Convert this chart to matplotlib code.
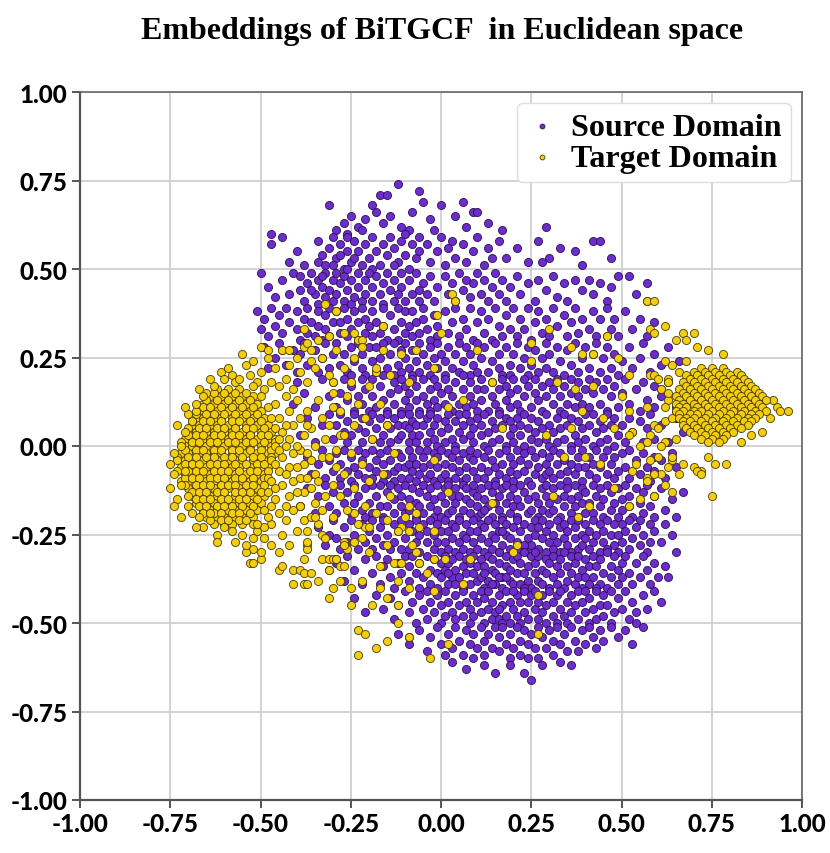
import numpy as np
import matplotlib
matplotlib.use("Agg")
import matplotlib.pyplot as plt

# ---------------- data (hundredths, flat x,y pairs) ----------------
TICKS = [-1.0, -0.75, -0.5, -0.25, 0.0, 0.25, 0.5, 0.75, 1.0]
TICK_LABELS = ["-1.00", "-0.75", "-0.50", "-0.25", "0.00", "0.25", "0.50", "0.75", "1.00"]
SERIES = ["Source Domain", "Target Domain"]

SRC_TOP = [-31,68, -27,63, -25,65, -29,61, -23,62, -26,60, -21,64, -22,61,
           -17,71, -15,71, -12,74, -18,66, -14,65, -11,62, -16,63, -19,68,
           -6,72, -5,69, -8,66, -3,64, -9,61, -2,61, 0,68, 6,69, 4,65, 9,66,
           10,66, 7,62, 13,63, 17,61, 29,62]
SRC_B55 = [-47,57, -47,60, -44,59, -40,55, -38,51, -42,52,
           -34,58, -33,54, -32,51, -31,56, -30,59, -29,53, -28,57, -27,50, -26,55, -26,59, -34,52, -30,51, -28,54, -25,52,
           -24,58, -23,55, -22,51, -21,57, -20,53, -19,59, -18,55, -17,51, -16,57, -24,53, -19,50, -15,54,
           -14,59, -13,56, -12,52, -11,58, -10,54, -9,50, -8,57, -7,53, -6,59, -13,51, -10,60, -6,55,
           -4,57, -3,52, -1,55, 0,59, 1,51, 2,56, 4,53, 3,58,
           6,57, 7,52, 9,55, 10,59, 12,51, 13,56, 14,53,
           16,58, 18,53, 21,56, 24,52, 27,58, 28,52, 30,53, 33,56,
           37,55, 39,51, 42,58, 44,58, 47,53]
SRC_B45 = [-50,49, -48,45, -46,42, -44,47, -42,43, -41,49,
           -39,48, -39,44, -38,41, -37,46, -36,49, -35,43, -34,40, -34,47, -33,45, -32,42, -32,49, -31,44, -30,47, -30,41, -36,44, -33,48,
           -29,49, -29,43, -28,46, -27,41, -27,48, -26,44, -25,47, -25,40, -24,42, -23,49, -23,45, -22,41, -21,47, -21,43, -20,49, -26,50,
           -19,45, -19,41, -18,48, -17,43, -16,46, -16,40, -15,49, -14,44, -13,41, -13,47, -12,43, -11,49, -11,45, -10,41,
           -9,47, -8,43, -7,49, -6,41, -5,46, -4,43, -3,48, -2,41, -1,45, -6,44,
           1,48, 2,43, 3,46, 4,41, 5,49, 6,44, 7,47, 8,42, 9,46, 10,49,
           11,43, 12,47, 13,41, 14,45, 15,49, 16,43, 17,47, 18,41, 19,45,
           21,48, 22,43, 24,46, 26,41, 27,47, 29,44,
           31,48, 32,42, 34,46, 35,41, 37,47, 39,44,
           41,47, 42,43, 44,46, 46,41, 47,45, 49,48, 52,48, 54,43, 57,46]
SRC_B35 = [-51,38, -50,33, -49,36, -48,31, -47,39, -46,34, -45,37, -44,32, -43,39, -42,35,
           -40,38, -40,33, -39,30, -38,36, -37,39, -37,32, -36,35, -35,31, -34,38, -34,34, -33,30, -32,37, -32,33, -31,39, -31,31, -30,35,
           -29,38, -28,32, -28,35, -27,39, -26,31, -26,36, -25,33, -24,38, -23,30, -23,35, -22,39, -21,32, -21,36, -20,34,
           -19,31, -19,38, -18,35, -17,32, -16,39, -16,34, -15,30, -14,37, -13,33, -12,39, -12,30, -11,35, -10,32, -10,38,
           -9,34, -8,31, -8,38, -7,35, -6,32, -5,39, -5,36, -4,33, -3,30, -2,37, -1,34, -1,31,
           1,38, 2,32, 3,35, 4,39, 5,31, 6,36, 7,33, 8,39, 9,30, 10,35,
           11,38, 12,32, 13,36, 14,30, 15,39, 16,34, 17,31, 18,37, 19,33, 20,39,
           21,31, 22,36, 23,33, 24,39, 25,30, 26,35, 27,38, 28,32, 29,36, 30,31,
           31,39, 32,34, 34,37, 35,31, 36,35, 37,39, 38,32, 39,36,
           41,33, 42,38, 43,31, 44,36, 46,39, 47,33, 48,36, 49,31,
           51,38, 53,33, 55,36, 57,31, 59,35]
SRC_B25 = [-49,28, -48,22, -46,25, -45,29, -43,23, -41,27,
           -40,21, -39,26, -38,29, -37,23, -35,27, -34,21, -33,25, -32,29, -31,22, -30,26,
           -29,29, -28,23, -27,26, -26,21, -25,28, -24,24, -23,29, -22,22, -22,26, -21,20, -20,28, -25,20,
           -19,24, -18,21, -18,28, -17,25, -16,29, -15,22, -14,26, -13,20, -13,29, -12,23, -11,27, -11,21, -10,25, -10,29,
           -9,22, -8,27, -8,20, -7,24, -6,29, -6,21, -5,26, -4,23, -3,28, -3,20, -2,25, -1,29, -1,22, 0,26,
           1,20, 1,24, 2,28, 3,22, 4,26, 5,29, 5,21, 6,24, 7,28, 8,20, 8,26, 9,23, 10,29, 10,21,
           11,25, 12,28, 13,21, 14,24, 15,29, 16,22, 16,26, 17,20, 18,28, 19,23, 20,26, 19,20,
           21,29, 22,22, 23,25, 24,20, 24,28, 25,23, 26,27, 27,21, 28,25, 29,29, 29,22, 30,26,
           31,21, 32,28, 33,24, 34,20, 35,27, 36,23, 37,29, 38,21, 39,25, 40,28,
           41,22, 42,26, 43,29, 44,21, 45,25, 46,28, 47,22, 48,26, 49,20, 50,24,
           52,28, 53,22, 55,25, 56,29, 58,21, 59,26, 61,23, 63,28, 66,24]
SRC_B15 = [-41,12, -40,18, -38,15, -35,11, -33,19, -31,14,
           -30,18, -29,11, -28,15, -27,19, -26,13, -25,17, -24,10, -23,14, -22,19, -22,12, -21,16, -20,10,
           -19,14, -19,19, -18,11, -17,17, -16,13, -16,20, -15,10, -14,15, -13,18, -13,12, -12,16, -11,10, -11,19, -10,13, -10,17,
           -9,11, -9,15, -8,19, -7,13, -7,17, -6,10, -5,14, -5,19, -4,12, -3,16, -3,10, -2,19, -2,13, -1,17, -1,11, 0,15,
           1,19, 1,12, 2,16, 3,10, 3,14, 4,18, 5,12, 6,16, 6,20, 7,11, 8,14, 8,18, 9,12, 10,16, 10,10,
           11,19, 11,13, 12,16, 13,10, 14,14, 14,18, 15,12, 16,16, 16,10, 17,19, 18,13, 18,17, 19,11, 19,15, 20,19,
           21,12, 21,16, 22,10, 23,19, 23,14, 24,17, 25,11, 26,15, 26,19, 27,13, 28,17, 28,10, 29,14, 30,18,
           31,12, 31,16, 32,19, 33,10, 33,14, 34,17, 35,12, 36,15, 36,19, 37,11, 38,14, 38,18, 39,12, 40,16,
           41,19, 41,11, 42,15, 43,18, 44,12, 45,16, 46,10, 46,19, 47,14, 48,17, 49,11, 50,15,
           51,19, 52,12, 54,16, 55,10, 56,18, 57,13, 59,17, 59,11, 61,14, 63,18, 65,11, 67,15]
SRC_B05 = [-39,3, -37,8, -35,1, -33,6, -31,9,
           -30,2, -29,6, -28,9, -27,4, -26,1, -26,7, -25,3, -24,9, -23,5, -22,1, -22,8, -21,4,
           -20,7, -19,2, -19,9, -18,5, -17,1, -17,8, -16,3, -15,6, -15,9, -14,1, -14,5, -13,8, -12,2, -12,6, -11,9, -11,3, -10,6,
           -9,1, -9,5, -9,9, -8,3, -8,7, -7,1, -7,6, -6,9, -6,3, -5,6, -4,1, -4,8, -3,4, -3,9, -2,2, -2,6, -1,0, -1,8,
           0,4, 1,7, 1,1, 2,9, 2,5, 3,2, 4,7, 4,0, 5,4, 5,9, 6,2, 6,6, 7,9, 8,3, 8,7, 9,1, 9,5, 10,8,
           11,3, 11,6, 12,0, 12,9, 13,4, 14,7, 14,1, 15,5, 16,9, 16,2, 17,6, 18,0, 18,8, 19,3, 19,7, 20,5, 20,1,
           21,8, 22,3, 22,6, 23,0, 23,9, 24,5, 25,2, 25,8, 26,4, 27,7, 27,1, 28,5, 29,9, 29,2, 30,6, 30,0,
           31,4, 32,8, 32,1, 33,5, 34,9, 34,2, 35,6, 36,0, 36,8, 37,3, 38,7, 38,1, 39,5, 40,9, 40,2,
           41,6, 42,0, 42,9, 43,4, 44,7, 44,1, 45,5, 46,9, 46,2, 47,6, 48,0, 48,8, 49,3, 50,6,
           51,1, 52,8, 53,4, 55,7, 56,1, 57,5, 58,9, 59,2, 61,6, 63,1, 65,8, 67,4]
SRC_BM05 = [-37,-3, -36,-8, -34,-5, -33,-1, -32,-9, -31,-4,
            -30,-7, -29,-2, -28,-9, -28,-5, -27,-1, -26,-7, -25,-3, -25,-10, -24,-6, -23,-1, -23,-8, -22,-4, -21,-9, -21,-2,
            -20,-6, -19,-1, -19,-9, -18,-4, -18,-7, -17,-2, -16,-10, -16,-5, -15,-8, -15,-1, -14,-4, -13,-7, -13,-10, -12,-2, -12,-6, -11,-9, -11,-3, -10,-6,
            -9,-1, -9,-5, -9,-9, -8,-3, -8,-7, -7,-10, -7,-5, -6,-1, -6,-8, -5,-3, -5,-6, -4,-9, -4,-1, -3,-5, -3,-8, -2,-2, -2,-10, -1,-6, -1,-3, 0,-9,
            0,-1, 1,-5, 1,-8, 2,-2, 2,-10, 3,-6, 3,-3, 4,-9, 4,-1, 5,-4, 5,-7, 6,-10, 6,-2, 7,-6, 7,-9, 8,-3, 8,-1, 9,-7, 9,-4, 10,-9,
            10,-2, 11,-6, 12,-9, 12,-3, 13,-1, 13,-7, 14,-4, 15,-10, 15,-6, 16,-2, 16,-8, 17,-5, 18,-1, 18,-9, 19,-3, 19,-7, 20,-5, 20,-10,
            21,-1, 21,-8, 22,-4, 23,-7, 23,-2, 24,-10, 24,-5, 25,-1, 26,-8, 26,-3, 27,-6, 28,-9, 28,-2, 29,-5, 29,-8, 30,-3, 30,-7,
            31,-1, 31,-9, 32,-5, 33,-2, 33,-8, 34,-4, 35,-7, 35,-10, 36,-1, 36,-5, 37,-8, 38,-3, 38,-6, 39,-10, 39,-1, 40,-6,
            41,-3, 41,-8, 42,-5, 43,-1, 43,-9, 44,-6, 45,-3, 46,-8, 46,-1, 47,-5, 48,-9, 48,-3, 49,-7, 50,-2,
            51,-6, 52,-1, 52,-9, 54,-4, 55,-8, 56,-2, 57,-6, 58,-10, 59,-3, 59,-7, 61,-4, 62,-9, 64,-2, 65,-6]
SRC_BM15 = [-39,-17, -37,-12, -35,-19, -34,-14, -32,-11, -31,-17,
            -30,-13, -29,-19, -28,-11, -27,-16, -26,-13, -25,-19, -24,-11, -24,-16, -23,-14, -22,-18, -21,-12, -21,-20,
            -20,-16, -19,-11, -19,-19, -18,-14, -17,-17, -17,-11, -16,-20, -15,-13, -15,-17, -14,-11, -13,-15, -13,-19, -12,-12, -11,-17, -11,-14, -10,-19,
            -10,-11, -9,-15, -9,-18, -8,-12, -7,-16, -7,-20, -6,-13, -6,-17, -5,-11, -5,-19, -4,-14, -3,-17, -3,-12, -2,-20, -2,-15, -1,-11, -1,-18, 0,-14,
            0,-20, 1,-12, 1,-16, 2,-19, 2,-11, 3,-14, 3,-18, 4,-12, 4,-16, 5,-20, 5,-14, 6,-11, 6,-18, 7,-15, 7,-12, 8,-19, 8,-16, 9,-13, 9,-11, 10,-17, 10,-20, 10,-14,
            11,-12, 11,-19, 12,-15, 13,-11, 13,-17, 14,-20, 14,-13, 15,-16, 15,-11, 16,-18, 16,-14, 17,-20, 17,-12, 18,-16, 18,-11, 19,-19, 19,-14, 20,-17, 20,-12, 12,-18,
            21,-15, 21,-20, 22,-11, 22,-17, 23,-13, 24,-19, 24,-15, 25,-11, 25,-18, 26,-14, 27,-20, 27,-16, 28,-12, 28,-18, 29,-14, 29,-11, 30,-19, 30,-16,
            31,-12, 31,-18, 32,-15, 33,-11, 33,-20, 34,-14, 34,-17, 35,-12, 36,-19, 36,-15, 37,-11, 37,-17, 38,-14, 38,-20, 39,-12, 39,-16, 40,-19, 40,-13,
            41,-16, 42,-11, 42,-19, 43,-14, 44,-17, 44,-12, 45,-20, 45,-15, 46,-11, 47,-18, 47,-13, 48,-16, 49,-20, 49,-12, 50,-15, 50,-18,
            51,-11, 52,-17, 52,-14, 53,-20, 54,-12, 55,-16, 56,-19, 56,-13, 57,-11, 58,-17, 59,-14, 59,-20, 61,-12, 62,-18, 64,-15, 65,-20, 67,-13]
SRC_BM25 = [-34,-23, -32,-28, -31,-25,
            -30,-21, -29,-26, -28,-29, -27,-23, -26,-27, -25,-21, -24,-25, -23,-29, -22,-22, -21,-27,
            -20,-24, -19,-29, -19,-21, -18,-26, -17,-23, -16,-28, -16,-21, -15,-25, -14,-29, -13,-22, -13,-27, -12,-24, -11,-21, -11,-29,
            -10,-26, -9,-22, -9,-29, -8,-24, -7,-27, -7,-21, -6,-25, -6,-30, -5,-22, -4,-27, -4,-24, -3,-21, -2,-29, -2,-25, -1,-22, -1,-27,
            0,-24, 0,-30, 1,-21, 1,-27, 2,-24, 2,-29, 3,-22, 3,-26, 4,-30, 4,-23, 5,-27, 5,-21, 6,-25, 6,-29, 7,-22, 7,-26, 8,-30, 8,-24, 9,-21, 9,-27, 10,-24, 10,-29,
            11,-22, 11,-26, 12,-30, 12,-23, 13,-27, 13,-21, 14,-25, 14,-29, 15,-22, 15,-26, 16,-30, 16,-24, 17,-21, 17,-28, 18,-25, 18,-22, 19,-29, 19,-26, 20,-23, 20,-30, 17,-24,
            21,-27, 21,-21, 22,-24, 22,-29, 23,-22, 24,-26, 24,-30, 25,-23, 25,-28, 26,-21, 26,-25, 27,-29, 27,-23, 28,-26, 28,-21, 29,-30, 29,-24, 30,-27, 30,-22, 23,-28,
            31,-25, 31,-29, 32,-21, 32,-27, 33,-23, 33,-30, 34,-26, 34,-22, 35,-28, 35,-24, 36,-21, 36,-30, 37,-26, 37,-23, 38,-29, 38,-21, 39,-25, 39,-28, 40,-22, 40,-26,
            41,-29, 41,-24, 42,-21, 42,-27, 43,-25, 44,-30, 44,-22, 45,-27, 45,-24, 46,-21, 46,-29, 47,-25, 48,-22, 48,-28, 49,-25, 49,-30, 50,-22, 50,-27,
            51,-24, 52,-29, 52,-21, 53,-26, 54,-23, 55,-28, 55,-21, 56,-25, 57,-30, 58,-22, 58,-27, 59,-24, 61,-27, 62,-22, 64,-25, 65,-30]
SRC_BM35 = [-29,-33, -27,-38, -26,-31, -24,-35, -22,-39, -21,-32,
            -19,-36, -18,-31, -17,-39, -16,-34, -15,-32, -14,-37, -13,-40, -12,-33, -11,-36, -10,-31,
            -9,-38, -9,-34, -8,-31, -7,-36, -6,-40, -6,-33, -5,-37, -4,-31, -3,-35, -3,-39, -2,-32, -1,-36, -1,-40, 0,-33,
            0,-37, 1,-31, 1,-35, 2,-39, 2,-33, 3,-37, 3,-32, 4,-35, 4,-39, 5,-31, 5,-37, 6,-34, 6,-40, 7,-32, 7,-36, 8,-39, 8,-33, 9,-36, 9,-31, 10,-38, 10,-34, 2,-36,
            11,-32, 11,-37, 12,-40, 12,-34, 13,-31, 13,-38, 14,-35, 14,-32, 15,-39, 15,-36, 16,-33, 16,-30, 17,-37, 17,-40, 18,-34, 18,-31, 19,-38, 19,-35, 20,-32, 20,-39, 12,-36, 14,-39, 16,-37, 18,-37,
            21,-36, 21,-31, 22,-39, 22,-33, 23,-36, 23,-30, 24,-38, 24,-34, 25,-31, 25,-40, 26,-36, 26,-33, 27,-38, 27,-31, 28,-35, 28,-39, 29,-32, 29,-36, 30,-40, 30,-33, 23,-40, 26,-30,
            31,-37, 31,-31, 32,-34, 32,-39, 33,-32, 33,-36, 34,-40, 34,-30, 35,-34, 35,-38, 36,-31, 36,-36, 37,-39, 37,-33, 38,-37, 38,-31, 39,-35, 39,-40, 40,-32, 40,-37,
            41,-34, 41,-39, 42,-31, 42,-37, 43,-34, 44,-39, 44,-32, 45,-36, 46,-30, 46,-40, 47,-34, 47,-37, 48,-31, 49,-35, 49,-39, 50,-33, 50,-37, 43,-40,
            51,-31, 52,-36, 53,-39, 54,-33, 55,-37, 56,-31, 57,-35, 58,-39, 59,-33, 60,-37, 62,-34, 63,-37]
SRC_BM45 = [-24,-43, -21,-47, -18,-42, -16,-46,
            -14,-43, -13,-49, -12,-45, -10,-41, -9,-47, -8,-44, -7,-50, -6,-42,
            -5,-46, -4,-41, -4,-49, -3,-44, -2,-47, -1,-42, 0,-45, 0,-50, 1,-41, 1,-48, 2,-44, 3,-47, 4,-42, 4,-49,
            5,-45, 6,-41, 6,-48, 7,-44, 8,-50, 8,-46, 9,-42, 9,-48, 10,-44, 11,-41, 11,-47, 12,-50, 12,-43, 13,-46, 13,-41, 14,-49, 14,-44, 15,-47,
            16,-42, 16,-49, 17,-45, 18,-41, 18,-48, 19,-44, 19,-50, 20,-46, 21,-42, 21,-48, 22,-44, 22,-50, 23,-41, 23,-47, 24,-44, 24,-49, 25,-42, 17,-50, 20,-41, 16,-46,
            26,-46, 26,-41, 27,-49, 27,-44, 28,-42, 28,-47, 29,-50, 29,-45, 30,-41, 31,-48, 31,-44, 32,-42, 32,-50, 33,-46, 33,-41, 34,-48, 35,-44, 35,-50,
            36,-42, 36,-47, 37,-45, 38,-41, 38,-49, 39,-44, 40,-47, 40,-41, 41,-50, 41,-43, 42,-46, 43,-49, 43,-41, 44,-45, 45,-48, 45,-42,
            46,-45, 47,-41, 47,-50, 48,-47, 49,-43, 50,-46, 51,-41, 52,-49, 53,-44, 54,-47,
            56,-42, 57,-46, 59,-41, 61,-44]
SRC_BM55 = [-12,-53, -9,-56, -6,-52,
            -4,-58, -3,-54, -1,-51, 0,-56, 1,-59, 2,-53, 3,-57, 4,-51,
            5,-55, 6,-59, 7,-52, 8,-56, 9,-60, 9,-53, 10,-57, 11,-51, 12,-55, 12,-59, 13,-53, 14,-57, 15,-51,
            16,-54, 16,-58, 17,-51, 18,-56, 19,-53, 19,-60, 20,-57, 21,-51, 22,-55, 22,-59, 23,-52, 24,-56, 24,-60, 25,-53,
            26,-57, 27,-51, 27,-60, 28,-54, 29,-57, 30,-52, 31,-55, 31,-59, 32,-51, 33,-56, 34,-53, 35,-58,
            36,-51, 37,-55, 38,-58, 39,-52, 40,-56, 41,-51, 42,-54, 43,-57, 44,-52, 45,-55,
            47,-51, 49,-54, 51,-52, 53,-56, 54,-50, 56,-51]
SRC_BOT = [3,-61, 7,-63, 12,-62, 15,-64, 19,-62, 23,-64, 25,-66, 28,-62, 33,-61, 36,-62]

TGT_LEFT_CORE_EVEN = [
    -62,16, -59,16, -56,16,
    -64,14, -61,14, -58,14, -55,14, -52,14,
    -66,12, -63,12, -60,12, -57,12, -54,12, -51,12,
    -67,10, -64,10, -62,10, -59,10, -56,10, -53,10, -50,10,
    -68,8, -66,8, -63,8, -61,8, -58,8, -55,8, -52,8, -49,8,
    -69,6, -67,6, -64,6, -62,6, -59,6, -57,6, -54,6, -51,6, -48,6,
    -70,4, -68,4, -65,4, -63,4, -60,4, -58,4, -55,4, -53,4, -50,4, -47,4,
    -71,2, -69,2, -66,2, -64,2, -61,2, -59,2, -56,2, -54,2, -51,2, -48,2, -46,2,
    -71,0, -69,0, -67,0, -65,0, -62,0, -60,0, -58,0, -55,0, -53,0, -50,0, -47,0,
    -72,-2, -70,-2, -67,-2, -65,-2, -63,-2, -61,-2, -58,-2, -56,-2, -54,-2, -51,-2, -48,-2, -46,-2,
    -71,-4, -69,-4, -66,-4, -64,-4, -62,-4, -59,-4, -57,-4, -55,-4, -52,-4, -49,-4, -47,-4,
    -72,-6, -70,-6, -68,-6, -65,-6, -63,-6, -61,-6, -58,-6, -56,-6, -53,-6, -50,-6, -48,-6,
    -71,-8, -69,-8, -66,-8, -64,-8, -62,-8, -59,-8, -57,-8, -54,-8, -51,-8, -49,-8,
    -72,-10, -70,-10, -67,-10, -65,-10, -63,-10, -60,-10, -58,-10, -55,-10, -53,-10, -50,-10,
    -70,-12, -68,-12, -66,-12, -63,-12, -61,-12, -59,-12, -56,-12, -54,-12, -51,-12,
    -69,-14, -67,-14, -64,-14, -62,-14, -60,-14, -57,-14, -55,-14, -52,-14, -49,-14,
    -68,-16, -65,-16, -63,-16, -61,-16, -58,-16, -56,-16, -53,-16, -50,-16,
    -66,-18, -64,-18, -62,-18, -59,-18, -57,-18, -54,-18, -51,-18,
    -65,-20, -62,-20, -60,-20, -57,-20, -55,-20, -52,-20,
    -63,-22, -60,-22, -58,-22, -55,-22, -52,-22]
TGT_LEFT_CORE_ODD = [
    -63,15, -60,15, -57,15, -54,15,
    -65,13, -62,13, -59,13, -56,13, -53,13,
    -66,11, -64,11, -61,11, -58,11, -55,11, -52,11,
    -68,9, -65,9, -63,9, -60,9, -57,9, -54,9, -51,9,
    -69,7, -66,7, -64,7, -61,7, -58,7, -56,7, -53,7, -50,7,
    -70,5, -67,5, -65,5, -62,5, -60,5, -57,5, -54,5, -52,5, -49,5,
    -70,3, -68,3, -66,3, -63,3, -61,3, -58,3, -56,3, -53,3, -50,3, -48,3,
    -72,1, -69,1, -67,1, -64,1, -62,1, -59,1, -57,1, -54,1, -52,1, -49,1, -46,1,
    -71,-1, -68,-1, -66,-1, -63,-1, -61,-1, -58,-1, -56,-1, -53,-1, -50,-1, -47,-1,
    -73,-3, -70,-3, -68,-3, -65,-3, -63,-3, -60,-3, -58,-3, -55,-3, -52,-3, -50,-3, -47,-3,
    -71,-5, -69,-5, -67,-5, -64,-5, -62,-5, -60,-5, -57,-5, -54,-5, -51,-5, -49,-5,
    -73,-7, -70,-7, -68,-7, -66,-7, -63,-7, -61,-7, -59,-7, -56,-7, -53,-7, -51,-7, -48,-7,
    -71,-9, -69,-9, -67,-9, -64,-9, -62,-9, -60,-9, -57,-9, -55,-9, -52,-9, -49,-9,
    -71,-11, -68,-11, -66,-11, -64,-11, -61,-11, -59,-11, -57,-11, -54,-11, -52,-11, -49,-11,
    -69,-13, -67,-13, -65,-13, -62,-13, -60,-13, -57,-13, -55,-13, -53,-13, -50,-13,
    -68,-15, -66,-15, -64,-15, -61,-15, -59,-15, -56,-15, -54,-15, -51,-15,
    -67,-17, -65,-17, -62,-17, -60,-17, -58,-17, -55,-17, -52,-17,
    -66,-19, -63,-19, -61,-19, -58,-19, -56,-19, -53,-19,
    -64,-21, -61,-21, -59,-21, -56,-21, -54,-21]
TGT_LEFT_HALO = [-61,21, -58,20, -54,23, -55,26, -52,24, -50,21, -48,25, -46,22, -44,27, -42,23,
                 -47,18, -49,16, -45,17, -43,19, -41,16, -39,21, -40,25, -37,18, -36,24, -38,28,
                 -63,17, -65,15, -51,18, -53,20, -57,18,
                 -68,10, -69,7, -71,4, -72,0, -73,-4, -74,-8, -71,-7, -70,-14, -72,-11, -70,-17,
                 -67,-20, -64,-19, -66,-23, -62,-25,
                 -46,12, -45,8, -44,4, -46,0, -44,-3, -45,-7, -44,-11, -46,-15, -45,-19, -47,-22, -43,14,
                 -42,10, -41,6, -42,2, -41,-2, -42,-6, -41,-10, -42,-14, -41,-18, -43,-21, -44,-25,
                 -40,13, -39,8, -38,3, -39,-1, -38,-5, -39,-9, -38,-13, -39,-17, -38,-21, -40,-24,
                 -37,10, -36,5, -35,0, -36,-4, -35,-8, -36,-12, -35,-16, -36,-20, -37,-24,
                 -34,13, -33,8, -32,2, -33,-3, -34,-10, -32,-14, -33,-18, -34,-22,
                 -49,-26, -51,-24, -47,-28, -52,-29, -50,-32, -53,-33, -45,-30, -42,-28,
                 -48,-9, -48,-13, -49,-18, -47,-4, -31,6, -30,11, -29,-6, -30,-11, -28,3,
                 -50,28, -48,27, -44,27, -42,27, -38,33, -37,29]
TGT_LEFT_EDGE = [-74,-2, -75,-12, -73,-15, -69,-19, -68,12, -66,14, -70,9, -60,19, -56,19, -52,17,
                 -50,14, -48,11, -47,8, -46,5, -45,2, -45,-1, -46,-5, -47,-10, -46,-12, -47,-17,
                 -48,-20, -49,-23, -58,-24, -55,-25, -51,-22, -60,-23, -62,-27, -57,-27, -54,-30, -43,-8,
                 -43,0, -43,6, -40,0, -40,-6, -40,-13, -37,-9, -37,-2, -37,6, -35,-20, -43,-17,
                 -52,-26, -64,19, -59,22, -67,16, -71,11, -73,6, -75,-5, -74,-17, -72,-20, -68,-23]
TGT_TRAIL = [-54,-28, -52,-33, -50,-30, -45,-35, -44,-34, -41,-35, -39,-35, -38,-36,
             -41,-39, -38,-39, -37,-39, -37,-28, -37,-29, -33,-32, -31,-32, -30,-32,
             -28,-34, -27,-34, -30,-40, -31,-43, -28,-38, -25,-40, -25,-45, -23,-52,
             -21,-53, -18,-57, -15,-55, -23,-59, -12,-50, -12,-45, -15,-43, -17,-40,
             -26,-29, -33,-25, -32,-26, -27,-27, -24,-27, -21,-23, -13,-33, -12,-38,
             -9,-40, -9,-54, -34,-38, -36,-36, -38,-32, -37,-27, -29,-32, -31,-35]
TGT_SCATTER = [-32,40, -29,38, -27,32, -24,32, -23,30, -22,30, -31,31, -16,34, -1,37, 3,43,
               4,41, 0,32, -11,26, -7,27, 10,27, 30,33, 36,28, 39,26, 42,26, 46,31,
               49,25, 57,41, 25,29,
               -35,22, -30,18, -18,21, -9,18, -2,22, 6,13, 14,18, 17,5, 2,11, 25,24,
               32,18, 37,16, 42,17, 45,8, 39,10, 36,5, 29,3, 34,-3, 40,-3, 44,-5,
               48,-12, 38,-20, 41,-17, 31,-14, 14,-16, 20,-30, 21,-28, 27,-42, 27,-53, 6,-39,
               1,-32, 8,-32, -2,-4, 2,-13, -9,-17, -7,-19, -2,-32, 2,-56, -3,-60, -9,-54,
               -11,-33, -7,-30, -2,-24, -9,-24, -6,-23, -11,-23, -15,-21, -20,-23, -24,-19, -22,-26,
               -27,-28, -29,-32, -31,-35,
               -33,25, -31,20, -29,27, -27,22, -25,18, -30,15, -28,10, -26,14, -24,6, -27,3,
               -25,-2, -29,-1, -31,-3, -27,-8, -24,-12, -28,-14, -26,-18, -30,-20, -23,-22, -21,-17,
               -20,-10, -22,-5, -19,2, -21,8, -23,12, -20,17, -18,22, -16,27, -14,20, -17,12,
               -15,6, -13,-2, -16,-8, -14,-14, -18,-19, -12,-24, -10,-20, -8,-28, -6,-33, -4,-36,
               -2,-41, -20,-30, -17,-34, -15,-28, -22,-38, -19,-45, -24,25, -22,28, -36,27, -34,30,
               58,20, 61,16, 63,13, 57,11, 59,6, 55,0, 62,1, 64,-4, 53,-7, 57,-9,
               55,-15, 52,-17, 61,-8, 63,19, 65,10, 58,-4, 52,10, 50,14, 53,4]
TGT_RIGHT_HALO = [57,41, 59,41, 46,31, 58,33, 62,34, 59,32, 67,32, 70,32, 65,30, 68,30,
                  71,28, 74,27, 78,26, 62,24, 64,23, 52,20, 59,20, 60,19, 63,18, 61,16,
                  62,11, 62,7, 60,5, 58,3, 61,0, 64,-3, 67,-5, 70,-6, 72,-7, 74,-3,
                  76,-5, 79,-5, 83,1, 86,3, 89,4, 71,-7, 72,-8, 75,-14, 66,-8, 63,-6,
                  60,-3, 59,-8, 57,-10, 62,-11, 64,-13, 59,-14, 54,-5, 52,3, 48,5, 57,1,
                  93,11, 94,10, 96,10, 91,8, 92,13, 66,21, 68,24, 63,15, 64,8, 65,2]
TGT_RIGHT_CORE = [
    72,22, 75,22, 78,22,
    70,21, 73,21, 76,21, 79,21, 82,21,
    68,20, 71,20, 74,20, 77,20, 80,20, 83,20,
    69,19, 72,19, 75,19, 78,19, 81,19, 84,19,
    67,18, 70,18, 73,18, 76,18, 79,18, 82,18, 85,18,
    68,17, 71,17, 74,17, 77,17, 80,17, 83,17, 86,17,
    66,16, 69,16, 72,16, 75,16, 78,16, 81,16, 84,16, 87,16,
    67,15, 70,15, 73,15, 76,15, 79,15, 82,15, 85,15, 88,15,
    65,14, 68,14, 71,14, 74,14, 77,14, 80,14, 83,14, 86,14, 89,14,
    66,13, 69,13, 72,13, 75,13, 78,13, 81,13, 84,13, 87,13, 90,13,
    65,12, 67,12, 70,12, 73,12, 76,12, 79,12, 82,12, 85,12, 88,12,
    66,11, 68,11, 71,11, 74,11, 77,11, 80,11, 83,11, 86,11, 89,11,
    65,10, 67,10, 70,10, 72,10, 75,10, 78,10, 81,10, 84,10, 87,10, 90,10,
    66,9, 69,9, 71,9, 74,9, 77,9, 80,9, 83,9, 86,9, 88,9,
    66,8, 68,8, 70,8, 73,8, 76,8, 79,8, 82,8, 85,8, 87,8,
    67,7, 69,7, 72,7, 75,7, 78,7, 81,7, 84,7, 86,7,
    67,6, 70,6, 73,6, 76,6, 79,6, 82,6, 85,6,
    68,5, 71,5, 74,5, 77,5, 80,5, 83,5,
    69,4, 72,4, 75,4, 78,4, 81,4,
    70,3, 73,3, 76,3, 79,3,
    72,2, 75,2, 78,2,
    74,1, 77,1]


def to_xy(*groups):
    vals = []
    for g in groups:
        vals.extend(g[: len(g) // 2 * 2])
    a = np.asarray(vals, dtype=float)
    return a[0::2] / 100.0, a[1::2] / 100.0


src_x, src_y = to_xy(SRC_TOP, SRC_B55, SRC_B45, SRC_B35, SRC_B25, SRC_B15, SRC_B05,
                     SRC_BM05, SRC_BM15, SRC_BM25, SRC_BM35, SRC_BM45, SRC_BM55, SRC_BOT)
tgt_x, tgt_y = to_xy(TGT_LEFT_CORE_EVEN, TGT_LEFT_CORE_ODD, TGT_LEFT_HALO, TGT_LEFT_EDGE,
                     TGT_TRAIL, TGT_SCATTER, TGT_RIGHT_HALO, TGT_RIGHT_CORE)

# ---------------- figure ----------------
fig = plt.figure(figsize=(8.30, 8.54), dpi=100)
ax = fig.add_axes([80 / 830, 1 - 801 / 854, 722 / 830, 708 / 854])

ax.scatter(src_x, src_y, s=34, c="#6c2dcc", edgecolors="#2a1050", linewidths=0.6,
           label=SERIES[0], zorder=3)
ax.scatter(tgt_x, tgt_y, s=34, c="#f2cd10", edgecolors="#4a3c00", linewidths=0.6,
           label=SERIES[1], zorder=4)

ax.set_xlim(-1, 1)
ax.set_ylim(-1, 1)
ax.set_xticks(TICKS)
ax.set_yticks(TICKS)
tick_font = dict(family=["Lato", "DejaVu Sans"], weight=900, size=17.5)
ax.set_xticklabels(TICK_LABELS, fontdict=tick_font)
ax.set_yticklabels(TICK_LABELS, fontdict=tick_font)
ax.tick_params(axis="both", direction="out", length=6, width=1.4, color="#555555", pad=3)
ax.grid(True, color="#cccccc", linewidth=1.2)
ax.set_axisbelow(True)
for side in ["left", "bottom"]:
    ax.spines[side].set_color("#555555")
    ax.spines[side].set_linewidth(1.6)
for side in ["top", "right"]:
    ax.spines[side].set_color("#666666")
    ax.spines[side].set_linewidth(1.2)

leg = ax.legend(loc="upper right", bbox_to_anchor=(0.985, 0.985), borderaxespad=0,
                prop=dict(family=["Liberation Serif", "DejaVu Serif"], weight="bold", size=23),
                markerscale=0.6, handlelength=1.0, handletextpad=0.4, labelspacing=0.05,
                borderpad=0.3, frameon=True, fancybox=True, framealpha=1.0,
                edgecolor="#dddddd")

fig.text(0.5325, 1 - 32 / 854, "Embeddings of BiTGCF  in Euclidean space",
         ha="center", va="center", family=["Liberation Serif", "DejaVu Serif"],
         weight="bold", size=23)

fig.savefig("out.png", dpi=100)
